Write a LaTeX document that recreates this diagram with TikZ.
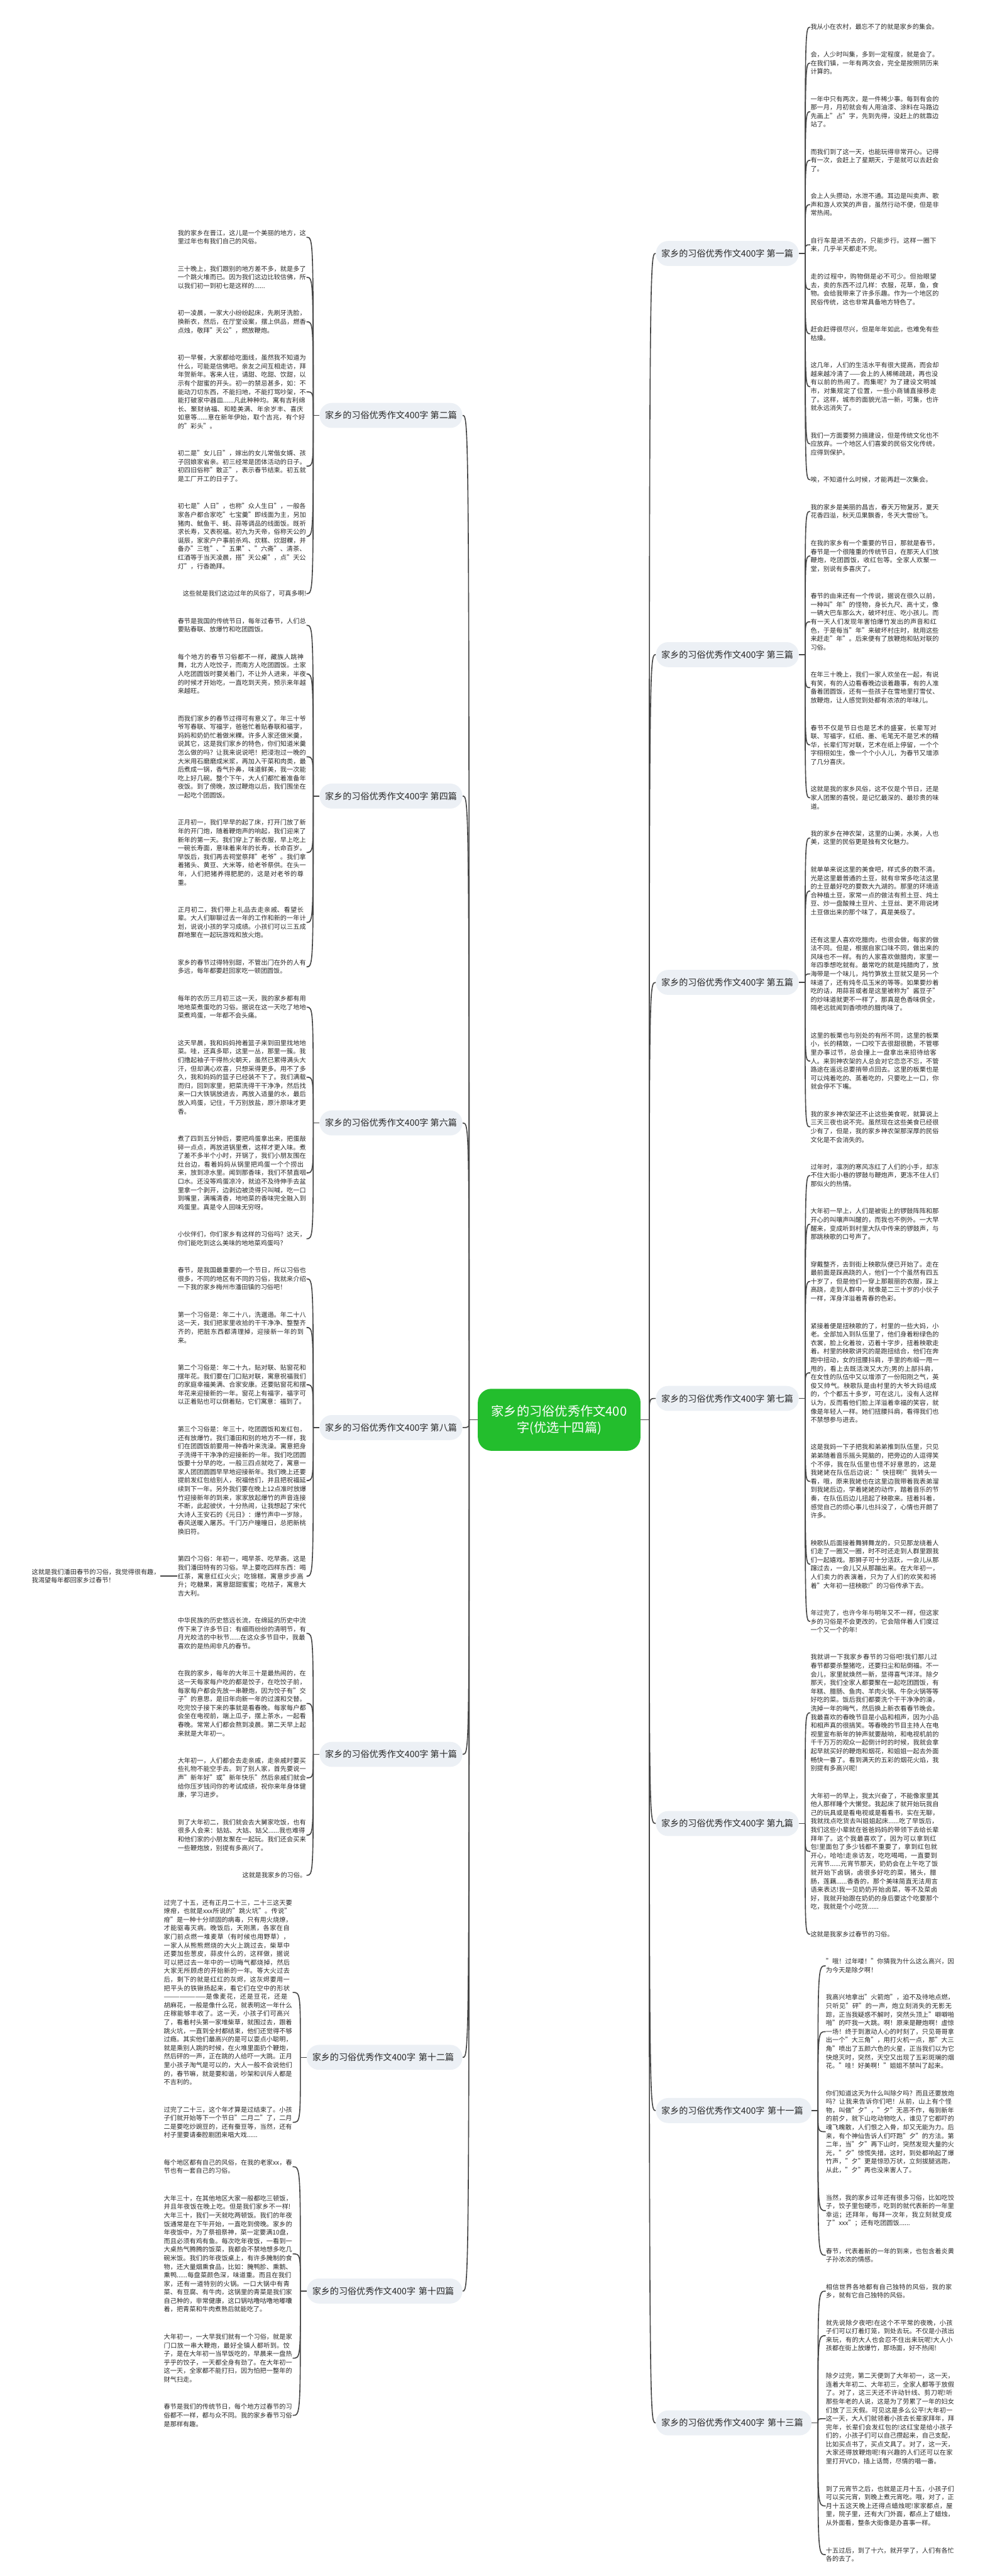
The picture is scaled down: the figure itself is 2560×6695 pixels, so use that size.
\documentclass[tikz,border=0pt]{standalone}
\usepackage{fontspec}
\setmainfont{Noto Sans CJK SC}
\usetikzlibrary{calc,positioning}
\XeTeXlinebreaklocale "zh"
\XeTeXlinebreakskip=0pt plus 1pt
\definecolor{mapgreen}{RGB}{35,190,45}
\definecolor{branchgray}{RGB}{236,240,245}
\definecolor{inkgray}{RGB}{40,40,40}
\definecolor{wiregray}{RGB}{70,70,70}

\begin{document}
\begin{tikzpicture}[x=0.01cm,y=-0.01cm,node distance=5.4mm,
  leaf/.style={inner sep=0pt,text width=95pt,align=left,text=inkgray,font=\fontsize{4.72pt}{6.32pt}\selectfont},
  leafs/.style={inner sep=0pt,text=inkgray,font=\fontsize{4.72pt}{6.32pt}\selectfont},
  branch/.style={fill=branchgray,rounded corners=9pt,inner xsep=4pt,inner ysep=6.2pt,text=inkgray,font=\fontsize{6.55pt}{8.4pt}\selectfont},
  branchw/.style={branch,text width=107pt,align=left},
  hub/.style={fill=mapgreen,rounded corners=10pt,text=white,align=center,inner xsep=10pt,inner ysep=12pt,font=\fontsize{9.4pt}{12pt}\selectfont},
  wire/.style={draw=wiregray,line width=0.75pt}]
  \fill[white] (0,0) rectangle (2560,6695);
  \useasboundingbox (0,0) rectangle (2560,6695);

  % right column
  \node[leaf,anchor=north west] (r1a) at (2107,62) {我从小在农村，最忘不了的就是家乡的集会。};
  \node[leaf,below=of r1a.south west,anchor=north west] (r1b) {会，人少时叫集，多到一定程度，就是会了。在我们镇，一年有两次会，完全是按照阴历来计算的。};
  \node[leaf,below=of r1b.south west,anchor=north west] (r1c) {一年中只有两次，是一件稀少事。每到有会的那一月，月初就会有人用油漆、涂料在马路边先画上"占"字，先到先得，没赶上的就靠边站了。};
  \node[leaf,below=of r1c.south west,anchor=north west] (r1d) {而我们到了这一天，也能玩得非常开心。记得有一次，会赶上了星期天，于是就可以去赶会了。};
  \node[leaf,below=of r1d.south west,anchor=north west] (r1e) {会上人头攒动，水泄不通。耳边是叫卖声、歌声和游人欢笑的声音，虽然行动不便，但是非常热闹。};
  \node[leaf,below=of r1e.south west,anchor=north west] (r1f) {自行车是进不去的，只能步行。这样一圈下来，几乎半天都走不完。};
  \node[leaf,below=of r1f.south west,anchor=north west] (r1g) {走的过程中，购物倒是必不可少。但抬眼望去，卖的东西不过几样：衣服，花草，鱼，食物。会给我带来了许多乐趣。作为一个地区的民俗传统，这也非常具备地方特色了。};
  \node[leaf,below=of r1g.south west,anchor=north west] (r1h) {赶会赶得很尽兴，但是年年如此，也难免有些枯燥。};
  \node[leaf,below=of r1h.south west,anchor=north west] (r1i) {这几年，人们的生活水平有很大提高，而会却越来越冷清了——会上的人稀稀疏疏，再也没有以前的热闹了。而集呢？为了建设文明城市，对集规定了位置，一些小商铺直接移走了。这样，城市的面貌光洁一新，可集，也许就永远消失了。};
  \node[leaf,below=of r1i.south west,anchor=north west] (r1j) {我们一方面要努力搞建设，但是传统文化也不应放弃。一个地区人们喜爱的民俗文化传统，应得到保护。};
  \node[leaf,below=of r1j.south west,anchor=north west] (r1k) {唉，不知道什么时候，才能再赶一次集会。};

  \node[leaf,below=of r1k.south west,anchor=north west] (r3a) {我的家乡是美丽的昌吉，春天万物复苏，夏天花香四溢，秋天瓜果飘香，冬天大雪纷飞。};
  \node[leaf,below=of r3a.south west,anchor=north west] (r3b) {在我的家乡有一个重要的节日，那就是春节，春节是一个很隆重的传统节日，在那天人们放鞭炮，吃团圆饭，收红包等。全家人欢聚一堂，别说有多喜庆了。};
  \node[leaf,below=of r3b.south west,anchor=north west] (r3c) {春节的由来还有一个传说，据说在很久以前，一种叫"年"的怪物，身长九尺、高十丈，像一辆大巴车那么大，破坏村庄、吃小孩儿。而有一天人们发现年害怕爆竹发出的声音和红色，于是每当"年"来破坏村庄时，就用这些来赶走"年"。后来便有了放鞭炮和贴对联的习俗。};
  \node[leaf,below=of r3c.south west,anchor=north west] (r3d) {在年三十晚上，我们一家人欢坐在一起，有说有笑，有的人边看春晚边谈着趣事，有的人准备着团圆饭，还有一些孩子在雪地里打雪仗、放鞭炮，让人感觉到处都有浓浓的年味儿。};
  \node[leaf,below=of r3d.south west,anchor=north west] (r3e) {春节不仅是节日也是艺术的盛宴，长辈写对联、写福字，红纸、墨、毛笔无不是艺术的精华，长辈们写对联，艺术在纸上停留，一个个字栩栩如生，像一个个小人儿，为春节又增添了几分喜庆。};
  \node[leaf,below=of r3e.south west,anchor=north west] (r3f) {这就是我的家乡风俗，这不仅是个节日，还是家人团聚的喜悦，是记忆最深的、最珍贵的味道。};

  \node[leaf,below=of r3f.south west,anchor=north west] (r5a) {我的家乡在神农架，这里的山美，水美，人也美，这里的民俗更是独有文化魅力。};
  \node[leaf,below=of r5a.south west,anchor=north west] (r5b) {就单单来说这里的美食吧，样式多的数不清。光是这里最普通的土豆，就有非常多吃法这里的土豆最好吃的要数大九湖的。那里的环境适合种植土豆，家常一点的做法有煎土豆、炖土豆、炒一盘酸辣土豆片、土豆丝、更不用说烤土豆做出来的那个味了，真是美极了。};
  \node[leaf,below=of r5b.south west,anchor=north west] (r5c) {还有这里人喜欢吃腊肉，也很会做，每家的做法不同。但是，根据自家口味不同，做出来的风味也不一样。有的人家喜欢做腊肉，家里一年四季想吃就有。最常吃的就是炖腊肉了，放海带是一个味儿，炖竹笋放土豆就又是另一个味道了，还有炖冬瓜玉米的等等。如果要炒着吃的话，用蒜苔或者是这里被称为"酱豆子"的炒味道就更不一样了，那真是色香味俱全，隔老远就闻到香喷喷的腊肉味了。};
  \node[leaf,below=of r5c.south west,anchor=north west] (r5d) {这里的板栗也与别处的有所不同，这里的板栗小，长的精致，一口咬下去很甜很脆，不管哪里办事过节，总会撞上一盘拿出来招待给客人。来到神农架的人总会对它恋恋不忘，不管路途在遥远总要捎带点回去。这里的板栗也是可以炖着吃的、蒸着吃的，只要吃上一口，你就会停不下嘴。};
  \node[leaf,below=of r5d.south west,anchor=north west] (r5e) {我的家乡神农架还不止这些美食呢，就算说上三天三夜也说不完。虽然现在这些美食已经很少有了，但是，我的家乡神农架那深厚的民俗文化是不会消失的。};

  \node[leaf,below=of r5e.south west,anchor=north west] (r7a) {过年时，凛冽的寒风冻红了人们的小手，却冻不住大街小巷的锣鼓与鞭炮声，更冻不住人们那似火的热情。};
  \node[leaf,below=of r7a.south west,anchor=north west] (r7b) {大年初一早上，人们是被街上的锣鼓阵阵和那开心的叫嚷声叫醒的，而我也不例外。一大早醒来，变成听到村里大队中传来的锣鼓声，与那跳秧歌的口号声了。};
  \node[leaf,below=of r7b.south west,anchor=north west] (r7c) {穿戴整齐，去到街上秧歌队便已开始了。走在最前面是踩高跷的人，他们一个个虽然有四五十岁了，但是他们一穿上那靓丽的衣服，踩上高跷，走到人群中，就像是二三十岁的小伙子一样，浑身洋溢着青春的色彩。};
  \node[leaf,below=of r7c.south west,anchor=north west] (r7d) {紧接着便是扭秧歌的了，村里的一些大妈，小老。全部加入到队伍里了，他们身着粉绿色的衣裳，脸上化着妆，迈着十字步，扭着秧歌走着。村里的秧歌讲究的是跑扭结合，他们在奔跑中扭动，女的扭腰抖肩，手里的布缎一甩一甩的，看上去既活泼又大方;男的上部抖肩，在女性的队伍中又以增添了一份阳刚之气，英俊又帅气。秧歌队是由村里的大爷大妈组成的，个个都五十多岁，可在这儿，没有人这样认为，反而看他们脸上洋溢着幸福的笑容，就像是年轻人一样。她们扭腰抖肩，看得我们也不禁想参与进去。};
  \node[leaf,below=of r7d.south west,anchor=north west] (r7e) {这是我妈一下子把我和弟弟推到队伍里，只见弟弟随着音乐摇头晃脑的，把旁边的人逗得笑个不停，我在队伍里也怪不好意思的，这是我姥姥在队伍后边说："快扭啊!"我转头一看，哦，原来我姥也在这里边我带着我表弟溜到我姥后边，学着姥姥的动作，踏着音乐的节奏，在队伍后边儿扭起了秧歌来。扭着抖着，感觉自己的烦心事儿也抖没了，心情也开朗了许多。};
  \node[leaf,below=of r7e.south west,anchor=north west] (r7f) {秧歌队后面接着舞狮舞龙的，只见那龙绕着人们走了一圈又一圈，时不时还走到人群里跟我们一起嬉戏。那狮子可十分活跃，一会儿从那蹿过去，一会儿又从那蹦出来。在大年初一，人们卖力的表演着，只为了人们的欢笑和将着"大年初一扭秧歌!"的习俗传承下去。};
  \node[leaf,below=of r7f.south west,anchor=north west] (r7g) {年过完了，也许今年与明年又不一样，但这家乡的习俗是不会更改的，它会陪伴着人们度过一个又一个的年!};

  \node[leaf,below=of r7g.south west,anchor=north west] (r9a) {我就讲一下我家乡春节的习俗吧!我们那儿过春节都要杀整猪吃，还要扫尘和贴倒福。不一会儿，家里就焕然一新，显得喜气洋洋。除夕那天，我们全家人都要聚在一起吃团圆饭，有年糕、腊肠、鱼肉、羊肉火锅、牛杂火锅等等好吃的菜。饭后我们都要洗个干干净净的澡，洗掉一年的晦气，然后换上新衣看春节晚会。我最喜欢的春晚节目是小品和相声，因为小品和相声真的很搞笑。等春晚的节目主持人在电视里宣布新年的钟声就要敲响，和电视机前的千千万万的观众一起倒计时的时候，我就会拿起早就买好的鞭炮和烟花，和姐姐一起去外面畅快一番了。看到满天的五彩的烟花火焰，我别提有多高兴呢!};
  \node[leaf,below=of r9a.south west,anchor=north west] (r9b) {大年初一的早上，我太兴奋了，不能像家里其他人那样睡个大懒觉。我起床了就开始玩我自己的玩具或是看电视或是看看书，实在无聊，我就找点吃货去叫姐姐起床......吃了早饭后，我们这些小辈就在爸爸妈妈的带领下去给长辈拜年了。这个我最喜欢了，因为可以拿到红包!里面包了多少钱都不重要了，拿到红包就开心，哈哈!走亲访友，吃吃喝喝，一直要到元宵节......元宵节那天，奶奶会在上午吃了饭就开始下卤锅，卤很多好吃的菜，猪头，腊肠，莲藕......香香的，那个美味简直无法用言语来表达!我一见奶奶开始卤菜，等不及菜卤好，我就开始跟在奶奶的身后要这个吃要那个吃，我就是个小吃货......};
  \node[leaf,below=of r9b.south west,anchor=north west] (r9c) {这就是我家乡过春节的习俗。};

  \node[leaf,below=of r9c.south west,anchor=north west,xshift=4mm] (r11a) {"哦！过年喽！"你猜我为什么这么高兴，因为今天是除夕啊！};
  \node[leaf,below=of r11a.south west,anchor=north west] (r11b) {我高兴地拿出"火箭炮"，迫不及待地点燃，只听见"砰"的一声，炮立刻消失的无影无踪，正当我疑惑不解时，突然头顶上"噼噼啪啪"的吓我一大跳。啊！原来是鞭炮啊！虚惊一场！终于到激动人心的时刻了，只见哥哥拿出一个"大三角"，用打火机一点，那"大三角"喷出了五颜六色的火星，正当我们以为它快熄灭时，突然，天空又出现了五彩斑斓的烟花。"哇！好美啊！"姐姐不禁叫了起来。};
  \node[leaf,below=of r11b.south west,anchor=north west] (r11c) {你们知道这天为什么叫除夕吗？而且还要放炮吗？让我来告诉你们吧！从前，山上有个怪物，叫做"夕"，"夕"无恶不作，每到新年的前夕，就下山吃动物吃人，谁见了它都吓的魂飞魄散，人们恨之入骨，却又无能为力。后来，有个神仙告诉人们吓跑"夕"的方法。第二年，当"夕"再下山时，突然发现大量的火光，"夕"惊慌失措，这时，到处都响起了爆竹声，"夕"更是惊恐万状，立刻拔腿逃跑，从此，"夕"再也没来害人了。};
  \node[leaf,below=of r11c.south west,anchor=north west] (r11d) {当然，我的家乡过年还有很多习俗，比如吃饺子，饺子里包硬币，吃到的就代表新的一年里幸运；还拜年，每拜一次年，我立刻就变成了"xxx"；还有吃团圆饭......};
  \node[leaf,below=of r11d.south west,anchor=north west] (r11e) {春节，代表着新的一年的到来，也包含着炎黄子孙浓浓的情感。};

  \node[leaf,below=of r11e.south west,anchor=north west] (r13a) {相信世界各地都有自己独特的风俗，我的家乡，就有它自己独特的风俗。};
  \node[leaf,below=of r13a.south west,anchor=north west] (r13b) {就先说除夕夜吧!在这个不平常的夜晚，小孩子们可以打着灯笼，到处去玩。不仅是小孩出来玩，有的大人也会忍不住出来玩呢!大人小孩都在街上放爆竹，那场面，好不热闹!};
  \node[leaf,below=of r13b.south west,anchor=north west] (r13c) {除夕过完，第二天便到了大年初一，这一天，连着大年初二、大年初三，全家人都等于放假了。对了，这三天还不许动针线、剪刀呢!听那些年老的人说，这是为了劳累了一年的妇女们放了三天假。可见这是多么公平!大年初一这一天，大人们就领着小孩去长辈家拜年，拜完年，长辈们会发红包的!这红宝是给小孩子们的，小孩子们可以自己攒起来，自己支配，比如买点书了，买点文具了。对了，这一天，大家还得放鞭炮呢!有兴趣的人们还可以在家里打开VCD，插上话筒，尽情的唱一番。};
  \node[leaf,below=of r13c.south west,anchor=north west] (r13d) {到了元宵节之后，也就是正月十五，小孩子们可以买元宵，到晚上煮元宵吃。哦，对了，正月十五这天晚上还得点蜡烛呢!家家都点，屋里，院子里，还有大门外面，都点上了蜡烛，从外面看，整条大街像是办喜事一样。};
  \node[leaf,below=of r13d.south west,anchor=north west] (r13e) {十五过后，到了十六，就开学了，人们有各忙各的去了。};

  % left column
  \node[leaf,anchor=north east] (l2a) at (797,597) {我的家乡在晋江，这儿是一个美丽的地方，这里过年也有我们自己的风俗。};
  \node[leaf,below=of l2a.south east,anchor=north east] (l2b) {三十晚上，我们跟别的地方差不多，就是多了一个跳火堆而已。因为我们这边比较信佛，所以我们初一到初七是这样的......};
  \node[leaf,below=of l2b.south east,anchor=north east] (l2c) {初一凌晨，一家大小纷纷起床，先刷牙洗脸，换新衣，然后，在厅堂设案，摆上供品，燃香点烛，敬拜"天公"，燃放鞭炮。};
  \node[leaf,below=of l2c.south east,anchor=north east] (l2d) {初一早餐，大家都给吃面线，虽然我不知道为什么，可能是信佛吧。亲友之间互相走访，拜年贺新年。客来人往，请甜、吃甜、饮甜，以示有个甜蜜的开头。初一的禁忌甚多，如：不能动刀切东西，不能扫地，不能打骂吵架，不能打破家中器皿......凡此种种均。寓有吉利绵长、聚财纳福、和睦美满、年余岁丰、喜庆如意等......意在新年伊始，取个吉兆，有个好的"彩头"。};
  \node[leaf,below=of l2d.south east,anchor=north east] (l2e) {初二是"女儿日"，嫁出的女儿常偕女婿、孩子回娘家省亲。初三经常是团体活动的日子。初四旧俗称"散正"，表示春节结束。初五就是工厂开工的日子了。};
  \node[leaf,below=of l2e.south east,anchor=north east] (l2f) {初七是"人日"，也称"众人生日"，一般各家各户都合家吃"七宝羹"即线面为主，另加猪肉、鱿鱼干、蚝、蒜等调品的线面饭。既祈求长寿，又表祝福。初九为天帝，俗称天公的诞辰，家家户户事前杀鸡、炊糕、炊甜粿，并备办"三牲"、"五果"、"六斋"、清茶、红酒等于当天凌晨，搭"天公桌"，点"天公灯"，行香跪拜。};
  \node[leafs,below=of l2f.south east,anchor=north east] (l2g) {这些就是我们这边过年的风俗了，可真多啊!};

  \node[leaf,below=of l2g.south east,anchor=north east] (l4a) {春节是我国的传统节日，每年过春节，人们总要贴春联、放爆竹和吃团圆饭。};
  \node[leaf,below=of l4a.south east,anchor=north east] (l4b) {每个地方的春节习俗都不一样，藏族人跳神舞，北方人吃饺子，而南方人吃团圆饭。土家人吃团圆饭时要关着门，不让外人进来，半夜的时候才开始吃，一直吃到天亮，预示来年越来越旺。};
  \node[leaf,below=of l4b.south east,anchor=north east] (l4c) {而我们家乡的春节过得可有意义了。年三十爷爷写春联、写福字，爸爸忙着贴春联和福字，妈妈和奶奶忙着做米粿。许多人家还做米羹，说其它，这是我们家乡的特色，你们知道米羹怎么做的吗？让我来说说吧！把浸泡过一晚的大米用石磨磨成米浆，再加入干菜和肉类，最后煮成一锅，香气扑鼻，味道鲜美，我一次能吃上好几碗。整个下午，大人们都忙着准备年夜饭。到了傍晚，放过鞭炮以后，我们围坐在一起吃个团圆饭。};
  \node[leaf,below=of l4c.south east,anchor=north east] (l4d) {正月初一，我们早早的起了床，打开门放了新年的开门炮，随着鞭炮声的响起，我们迎来了新年的第一天。我们穿上了新衣服，早上吃上一碗长寿面，意味着来年的长寿，长命百岁。早饭后，我们再去祠堂祭拜"老爷"。我们拿着猪头、黄豆、大米等，给老爷祭供。在头一年，人们把猪养得肥肥的，这是对老爷的尊重。};
  \node[leaf,below=of l4d.south east,anchor=north east] (l4e) {正月初二，我们带上礼品去走亲戚、看望长辈。大人们聊聊过去一年的工作和新的一年计划，说说小孩的学习成绩。小孩们可以三五成群地聚在一起玩游戏和放火炮。};
  \node[leaf,below=of l4e.south east,anchor=north east] (l4f) {家乡的春节过得特别甜，不管出门在外的人有多远，每年都要赶回家吃一顿团圆饭。};

  \node[leaf,below=of l4f.south east,anchor=north east] (l6a) {每年的农历三月初三这一天，我的家乡都有用地地菜煮蛋吃的习俗。据说在这一天吃了地地菜煮鸡蛋，一年都不会头痛。};
  \node[leaf,below=of l6a.south east,anchor=north east] (l6b) {这天早晨，我和妈妈挎着篮子来到田里找地地菜。哇，还真多耶，这里一丛，那里一簇。我们撸起袖子干得热火朝天，虽然已累得满头大汗，但却满心欢喜，只想采得更多。用不了多久，我和妈妈的篮子已经装不下了。我们满载而归，回到家里，把菜洗得干干净净，然后找来一口大铁锅放进去，再放入适量的水，最后放入鸡蛋，记住，千万别放盐，原汁原味才更香。};
  \node[leaf,below=of l6b.south east,anchor=north east] (l6c) {煮了四到五分钟后，要把鸡蛋拿出来，把蛋敲碎一点点，再放进锅里煮，这样才更入味。煮了差不多半个小时，开锅了，我们小朋友围在灶台边，看着妈妈从锅里把鸡蛋一个个捞出来，放到凉水里。闻到那香味，我们不禁直咽口水。还没等鸡蛋凉冷，就迫不及待伸手去盆里拿一个剥开，边剥边被烫得只叫喊，吃一口到嘴里，满嘴清香，地地菜的香味完全融入到鸡蛋里。真是令人回味无穷呀。};
  \node[leaf,below=of l6c.south east,anchor=north east] (l6d) {小伙伴们，你们家乡有这样的习俗吗？这天，你们能吃到这么美味的地地菜鸡蛋吗？};

  \node[leaf,below=of l6d.south east,anchor=north east] (l8a) {春节，是我国最重要的一个节日，所以习俗也很多，不同的地区有不同的习俗，我就来介绍一下我的家乡梅州市潘田镇的习俗吧！};
  \node[leaf,below=of l8a.south east,anchor=north east] (l8b) {第一个习俗是：年二十八，洗邋遢。年二十八这一天，我们把家里收拾的干干净净、整整齐齐的，把脏东西都清理掉，迎接新一年的到来。};
  \node[leaf,below=of l8b.south east,anchor=north east] (l8c) {第二个习俗是：年二十九，贴对联、贴窗花和摆年花。我们要在门口贴对联，寓意祝福我们的家庭幸福美满、合家安康。还要贴窗花和摆年花来迎接新的一年。窗花上有福字，福字可以正着贴也可以倒着贴，它们寓意：福到了。};
  \node[leaf,below=of l8c.south east,anchor=north east] (l8d) {第三个习俗是：年三十，吃团圆饭和发红包，还有放爆竹。我们潘田和别的地方不一样，我们在团圆饭前要用一种香叶来洗澡。寓意把身子洗得干干净净的迎接新的一年。我们吃团圆饭要十分早的吃，一般三四点就吃了，寓意一家人团团圆圆早早地迎接新年。我们晚上还要提前发红包给别人，祝福他们，并且把祝福延续到下一年。另外我们要在晚上12点准时放爆竹迎接新年的到来，家家放起爆竹的声音连接不断，此起彼伏，十分热闹，让我想起了宋代大诗人王安石的《元日》：爆竹声中一岁除，春风送暖入屠苏。千门万户曈曈日，总把新桃换旧符。};
  \node[leaf,below=of l8d.south east,anchor=north east] (l8e) {第四个习俗：年初一，喝早茶、吃早斋。这是我们潘田特有的习俗。早上要吃四样东西：喝红茶，寓意红红火火；吃锦糕，寓意步步高升；吃糖果，寓意甜甜蜜蜜；吃桔子，寓意大吉大利。};
  \node[leaf,left=4.4mm of l8e] (l8x) {这就是我们潘田春节的习俗，我觉得很有趣，我渴望每年都回家乡过春节！};

  \node[leaf,below=of l8e.south east,anchor=north east] (l10a) {中华民族的历史悠远长流，在绵延的历史中流传下来了许多节日：有细雨纷纷的清明节，有月光皎洁的中秋节......在这众多节目中，我最喜欢的是热闹非凡的春节。};
  \node[leaf,below=of l10a.south east,anchor=north east] (l10b) {在我的家乡，每年的大年三十是最热闹的，在这一天每家每户吃的都是饺子，在吃饺子前，每家每户都会先放一串鞭炮，因为饺子有"交子"的意思，是旧年向新一年的过渡和交替。吃完饺子接下来的事就是看春晚。每家每户都会坐在电视前，端上瓜子，摆上茶水，一起看春晚。常常人们都会熬到凌晨。第二天早上起来就是大年初一。};
  \node[leaf,below=of l10b.south east,anchor=north east] (l10c) {大年初一，人们都会去走亲戚，走亲戚时要买些礼物不能空手去。到了别人家，首先要说一声"新年好"或"新年快乐"然后亲戚们就会给你压岁钱问你的考试成绩，祝你来年身体健康，学习进步。};
  \node[leaf,below=of l10c.south east,anchor=north east] (l10d) {到了大年初二，我们就会去大舅家吃饭，也有很多人会来：姑姑、大姑、姑父......我也难得和他们家的小朋友聚在一起玩。我们还会买来一些鞭炮放，别提有多高兴了。};
  \node[leafs,below=of l10d.south east,anchor=north east] (l10e) {这就是我家乡的习俗。};

  \node[leaf,below=of l10e.south east,anchor=north east,xshift=-3.6mm] (l12a) {过完了十五，还有正月二十三，二十三这天要燎疳，也就是xxx所说的"跳火坑"。传说"疳"是一种十分顽固的病毒，只有用火烧燎，才能驱毒灭病。晚饭后，天刚黑，各家在自家门前点燃一堆麦草（有时候也用野草），一家人从熊熊燃烧的大火上跳过去，柴草中还要加些葱皮，蒜皮什么的，这样做，据说可以把过去一年中的一切晦气都烧掉，然后大家无所顾虑的开始新的一年。等大火过去后，剩下的就是红红的灰烬，这灰烬要用一把平头的铁锹扬起来，看它们在空中的形状————————是像麦花，还是豆花，还是胡麻花，一般是像什么花，就表明这一年什么庄稼能够丰收了。这一天，小孩子们可高兴了，看着村头第一家堆柴草，就围过去，跟着跳火坑，一直到全村都结束，他们还觉得不够过瘾。其实他们最高兴的是可以耍点小聪明，就是乘别人跳的时候，在火堆里面扔个鞭炮，然后砰的一声，正在跳的人给吓一大跳。正月里小孩子淘气是可以的，大人一般不会说他们的，春节嘛，就是要和谐，吵架和训斥人都是不吉利的。};
  \node[leaf,below=of l12a.south east,anchor=north east] (l12b) {过完了二十三，这个年才算是过结束了。小孩子们就开始等下一个节日"二月二"了，二月二是要吃炒豌豆的，还有蚕豆等，当然，还有村子里要请秦腔剧团来唱大戏......};

  \node[leaf,below=of l12b.south east,anchor=north east] (l14a) {每个地区都有自己的风俗，在我的老家xx，春节也有一套自己的习俗。};
  \node[leaf,below=of l14a.south east,anchor=north east] (l14b) {大年三十，在其他地区大家一般都吃三顿饭，并且年夜饭在晚上吃。但是我们家乡不一样!大年三十，我们一天就吃两顿饭。我们的年夜饭通常是在下午开始，一直吃到傍晚。家乡的年夜饭中，为了祭祖祭神，菜一定要满10盘，而且必须有鸡有鱼。每次吃年夜饭，一看到一大桌热气腾腾的饭菜，我都会不禁地想多吃几碗米饭。我们的年夜饭桌上，有许多腌制的食物，还大量烟熏食品，比如：腌鸭胗、熏鹅、熏鸭......每盘菜颜色深，味道重。而且在我们家，还有一道特别的火锅。一口大锅中有青菜、有豆腐、有牛肉，这锅里的青菜是我们家自己种的，非常健康，这口锅咕噜咕噜地嘟囔着，把青菜和牛肉煮熟后就能吃了。};
  \node[leaf,below=of l14b.south east,anchor=north east] (l14c) {大年初一，一大早我们就有一个习俗，就是家门口放一串大鞭炮，最好全镇人都听到。饺子，是在大年初一当早饭吃的，早晨来一盘热乎乎的饺子，一天都全身有劲了。在大年初一这一天，全家都不能打扫，因为怕把一整年的财气扫走。};
  \node[leaf,below=of l14c.south east,anchor=north east] (l14d) {春节是我们的传统节日，每个地方过春节的习俗都不一样，都与众不同。我的家乡春节习俗是那样有趣。};

  % branches
  \coordinate (xR) at (1705,0);
  \coordinate (xL) at (1203,0);
  \coordinate (m1) at ($(r1a.west)!.5!(r1k.west)$);
  \coordinate (m3) at ($(r3a.west)!.5!(r3f.west)$);
  \coordinate (m5) at ($(r5a.west)!.5!(r5e.west)$);
  \coordinate (m7) at ($(r7a.west)!.5!(r7g.west)$);
  \coordinate (m9) at ($(r9a.west)!.5!(r9c.west)$);
  \coordinate (m11) at ($(r11a.west)!.5!(r11e.west)$);
  \coordinate (m13) at ($(r13a.west)!.5!(r13e.west)$);
  \coordinate (m2) at ($(l2a.east)!.5!(l2g.east)$);
  \coordinate (m4) at ($(l4a.east)!.5!(l4f.east)$);
  \coordinate (m6) at ($(l6a.east)!.5!(l6d.east)$);
  \coordinate (m8) at ($(l8a.east)!.5!(l8e.east)$);
  \coordinate (m10) at ($(l10a.east)!.5!(l10e.east)$);
  \coordinate (m12) at ($(l12a.east)!.5!(l12b.east)$);
  \coordinate (m14) at ($(l14a.east)!.5!(l14d.east)$);

  \node[branch,anchor=west] (b1) at (xR |- m1) {家乡的习俗优秀作文400字 第一篇};
  \node[branch,anchor=west] (b3) at (xR |- m3) {家乡的习俗优秀作文400字 第三篇};
  \node[branch,anchor=west] (b5) at (xR |- m5) {家乡的习俗优秀作文400字 第五篇};
  \node[branch,anchor=west] (b7) at (xR |- m7) {家乡的习俗优秀作文400字 第七篇};
  \node[branch,anchor=west] (b9) at (xR |- m9) {家乡的习俗优秀作文400字 第九篇};
  \node[branchw,anchor=west] (b11) at (xR |- m11) {家乡的习俗优秀作文400字 第十一篇};
  \node[branchw,anchor=west] (b13) at (xR |- m13) {家乡的习俗优秀作文400字 第十三篇};
  \node[branch,anchor=east] (b2) at (xL |- m2) {家乡的习俗优秀作文400字 第二篇};
  \node[branch,anchor=east] (b4) at (xL |- m4) {家乡的习俗优秀作文400字 第四篇};
  \node[branch,anchor=east] (b6) at (xL |- m6) {家乡的习俗优秀作文400字 第六篇};
  \node[branch,anchor=east] (b8) at (xL |- m8) {家乡的习俗优秀作文400字 第八篇};
  \node[branch,anchor=east] (b10) at (xL |- m10) {家乡的习俗优秀作文400字 第十篇};
  \node[branchw,anchor=east] (b12) at (xL |- m12) {家乡的习俗优秀作文400字 第十二篇};
  \node[branchw,anchor=east] (b14) at (xL |- m14) {家乡的习俗优秀作文400字 第十四篇};

  \node[hub] (hub) at (1454,3690) {家乡的习俗优秀作文400\\字(优选十四篇)};

  % connectors
  \coordinate (jr) at ($(hub.east)+(22,0)$);
  \coordinate (jl) at ($(hub.west)+(-22,0)$);
  \draw[wire] (hub.east) -- (jr);
  \draw[wire] (hub.west) -- (jl);
  \foreach \b in {b1,b3,b5,b7,b9,b11,b13}
    \draw[wire] (jr) .. controls (jr |- \b.west) .. (\b.west);
  \foreach \b in {b2,b4,b6,b8,b10,b12,b14}
    \draw[wire] (jl) .. controls (jl |- \b.east) .. (\b.east);

  \foreach \b/\leaves in {b1/{r1a,r1b,r1c,r1d,r1e,r1f,r1g,r1h,r1i,r1j,r1k},
      b3/{r3a,r3b,r3c,r3d,r3e,r3f}, b5/{r5a,r5b,r5c,r5d,r5e},
      b7/{r7a,r7b,r7c,r7d,r7e,r7f,r7g}, b9/{r9a,r9b,r9c},
      b11/{r11a,r11b,r11c,r11d,r11e}, b13/{r13a,r13b,r13c,r13d,r13e}} {
    \coordinate (j) at ($(\b.east)+(16,0)$);
    \draw[wire] (\b.east) -- (j);
    \foreach \l in \leaves
      \draw[wire] (j) .. controls (j |- \l.west) .. (\l.west);
  }
  \foreach \b/\leaves in {b2/{l2a,l2b,l2c,l2d,l2e,l2f,l2g},
      b4/{l4a,l4b,l4c,l4d,l4e,l4f}, b6/{l6a,l6b,l6c,l6d},
      b8/{l8a,l8b,l8c,l8d,l8e}, b10/{l10a,l10b,l10c,l10d,l10e},
      b12/{l12a,l12b}, b14/{l14a,l14b,l14c,l14d}} {
    \coordinate (j) at ($(\b.west)+(-16,0)$);
    \draw[wire] (\b.west) -- (j);
    \foreach \l in \leaves
      \draw[wire] (j) .. controls (j |- \l.east) .. (\l.east);
  }
  \draw[wire] (l8x.east) -- (l8e.west);
\end{tikzpicture}
\end{document}
